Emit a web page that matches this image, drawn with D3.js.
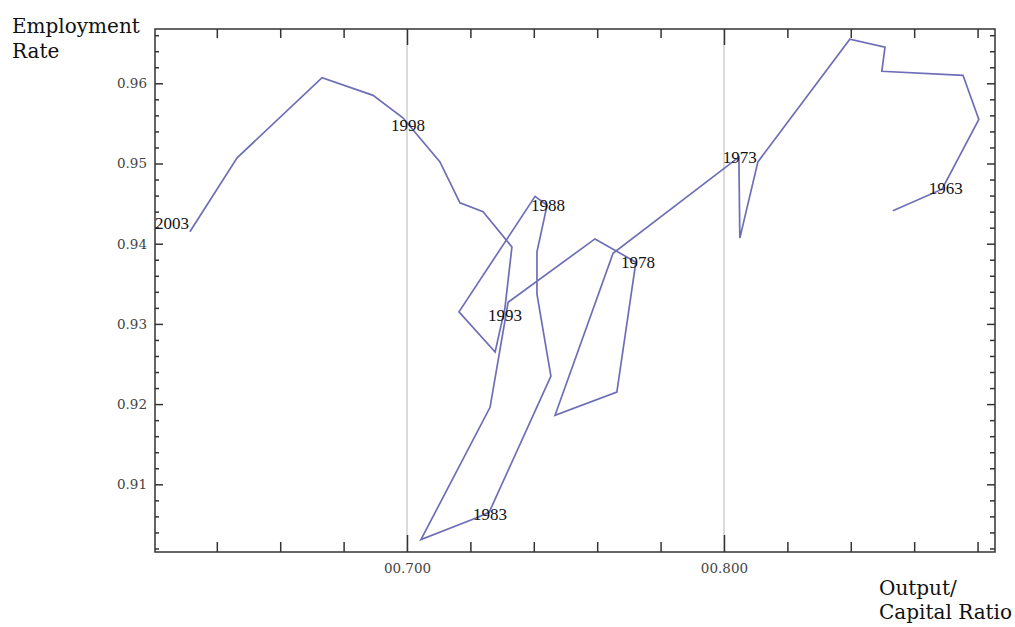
<!DOCTYPE html>
<html>
<head>
<meta charset="utf-8">
<script src="https://cdn.jsdelivr.net/npm/d3@7"></script>
<style>
    body { margin: 0; background: #fff; }
    svg { display: block; }
</style>
</head>
<body>
<div id="chart"></div>
<script>
// data, path order from 1963 to 2003
let outputCapital = [0.8533, 0.8688, 0.8804, 0.8754, 0.8498, 0.8508, 0.8397, 0.8107, 0.8050, 0.8047,
    0.7650, 0.7467, 0.7662, 0.7722, 0.7593, 0.7319, 0.7262, 0.7044, 0.7218, 0.7259,
    0.7454, 0.7410, 0.7410, 0.7442, 0.7404, 0.7164, 0.7278, 0.7309, 0.7331, 0.7240,
    0.7167, 0.7104, 0.6987, 0.6893, 0.6732, 0.6464, 0.6315];
let employment = [0.9441, 0.9468, 0.9555, 0.9610, 0.9615, 0.9645, 0.9655, 0.9502, 0.9407, 0.9508,
    0.9388, 0.9186, 0.9215, 0.9377, 0.9406, 0.9327, 0.9196, 0.9031, 0.9058, 0.9065,
    0.9235, 0.9337, 0.9390, 0.9448, 0.9459, 0.9315, 0.9265, 0.9320, 0.9396, 0.9440,
    0.9451, 0.9502, 0.9557, 0.9585, 0.9607, 0.9507, 0.9415];

let yearLabels = ["1963", "1973", "1978", "1983", "1988", "1993", "1998", "2003"];
let yearLabelX = [0.8700, 0.8050, 0.7729, 0.7262, 0.7445, 0.7309, 0.7003, 0.6259];
let yearLabelY = [0.9469, 0.9508, 0.9377, 0.9062, 0.9448, 0.9310, 0.9547, 0.9425];

let xMajorTicks = [0.70, 0.80];
let xMinorTicks = [0.64, 0.66, 0.68, 0.72, 0.74, 0.76, 0.78, 0.82, 0.84, 0.86, 0.88];
let yMajorTicks = [0.91, 0.92, 0.93, 0.94, 0.95, 0.96];
let yMinorTicks = d3.range(902, 967, 2).map(v => v / 1000).filter(v => Math.round(v * 1000) % 10 != 0);

// layout
let width = 1015,
    height = 627,
    plotLeft = 155,
    plotRight = 995,
    plotTop = 29,
    plotBottom = 552,
    lineColor = "#6e6eb8",
    frameColor = "#333";

let svg = d3.select("#chart").append("svg")
    .attr("width", width)
    .attr("height", height);

// scales
// ---------------------------------------------------------
let x = d3.scaleLinear().domain([0.6205, 0.8855]).range([plotLeft, plotRight]);
let y = d3.scaleLinear().domain([0.90156, 0.96677]).range([plotBottom, plotTop]);

// grid lines at labelled x ticks
svg.selectAll(".grid")
    .data(xMajorTicks)
    .enter()
    .append("line")
        .attr("class", "grid")
        .attr("x1", d => x(d))
        .attr("x2", d => x(d))
        .attr("y1", plotTop)
        .attr("y2", plotBottom)
        .attr("stroke", "#cfcfcf")
        .attr("stroke-width", 1.5);

// axes (ticks point inward on all four sides)
// ---------------------------------------------------------
function styleAxis(g) {
    g.select(".domain").remove();
    g.selectAll(".tick line").attr("stroke", frameColor).attr("stroke-width", 1.5);
    g.selectAll(".tick text")
        .attr("fill", "#444")
        .style("font-family", "'DejaVu Serif', serif")
        .style("font-size", "13.5px");
}

svg.append("g")
    .attr("transform", `translate(0,${plotBottom})`)
    .call(d3.axisBottom(x).tickValues(xMinorTicks).tickSize(-10).tickSizeOuter(0).tickFormat(""))
    .call(styleAxis);
svg.append("g")
    .attr("transform", `translate(0,${plotBottom})`)
    .call(d3.axisBottom(x).tickValues(xMajorTicks).tickSize(-17).tickSizeOuter(0).tickPadding(11)
        .tickFormat(d => "0" + d3.format(".3f")(d)))
    .call(styleAxis);
svg.append("g")
    .attr("transform", `translate(0,${plotTop})`)
    .call(d3.axisTop(x).tickValues(xMinorTicks).tickSize(-9).tickSizeOuter(0).tickFormat(""))
    .call(styleAxis);
svg.append("g")
    .attr("transform", `translate(0,${plotTop})`)
    .call(d3.axisTop(x).tickValues(xMajorTicks).tickSize(-16).tickSizeOuter(0).tickFormat(""))
    .call(styleAxis);

svg.append("g")
    .attr("transform", `translate(${plotLeft},0)`)
    .call(d3.axisLeft(y).tickValues(yMinorTicks).tickSize(-4).tickSizeOuter(0).tickFormat(""))
    .call(styleAxis);
svg.append("g")
    .attr("transform", `translate(${plotLeft},0)`)
    .call(d3.axisLeft(y).tickValues(yMajorTicks).tickSize(-8).tickSizeOuter(0).tickPadding(8)
        .tickFormat(d3.format(".2f")))
    .call(styleAxis);
svg.append("g")
    .attr("transform", `translate(${plotRight},0)`)
    .call(d3.axisRight(y).tickValues(yMinorTicks).tickSize(-5).tickSizeOuter(0).tickFormat(""))
    .call(styleAxis);
svg.append("g")
    .attr("transform", `translate(${plotRight},0)`)
    .call(d3.axisRight(y).tickValues(yMajorTicks).tickSize(-8).tickSizeOuter(0).tickFormat(""))
    .call(styleAxis);

// frame
svg.append("rect")
    .attr("x", plotLeft)
    .attr("y", plotTop)
    .attr("width", plotRight - plotLeft)
    .attr("height", plotBottom - plotTop)
    .attr("fill", "none")
    .attr("stroke", frameColor)
    .attr("stroke-width", 1.5);

// trajectory
// ---------------------------------------------------------
let points = outputCapital.map((v, i) => [v, employment[i]]);
let line = d3.line()
    .x(d => x(d[0]))
    .y(d => y(d[1]));

svg.append("path")
    .datum(points)
    .attr("d", line)
    .attr("fill", "none")
    .attr("stroke", lineColor)
    .attr("stroke-width", 1.7)
    .attr("stroke-linejoin", "miter");

// year labels
svg.selectAll(".yearLabel")
    .data(yearLabels)
    .enter()
    .append("text")
        .attr("class", "yearLabel")
        .attr("x", (d, i) => x(yearLabelX[i]))
        .attr("y", (d, i) => y(yearLabelY[i]))
        .attr("text-anchor", "middle")
        .attr("dominant-baseline", "central")
        .attr("fill", "#111")
        .style("font-family", "'Liberation Serif', serif")
        .style("font-size", "17px")
        .text(d => d);

// axis titles
// ---------------------------------------------------------
let titleFont = "'DejaVu Serif', serif";

let yTitle = svg.append("text")
    .attr("x", 12)
    .attr("y", 33)
    .attr("fill", "#111")
    .style("font-family", titleFont)
    .style("font-size", "20px");
yTitle.append("tspan").attr("x", 12).text("Employment");
yTitle.append("tspan").attr("x", 12).attr("dy", 25).text("Rate");

let xTitle = svg.append("text")
    .attr("x", 879)
    .attr("y", 595)
    .attr("fill", "#111")
    .style("font-family", titleFont)
    .style("font-size", "20px");
xTitle.append("tspan").attr("x", 879).text("Output/");
xTitle.append("tspan").attr("x", 879).attr("dy", 24).text("Capital Ratio");
</script>
</body>
</html>
